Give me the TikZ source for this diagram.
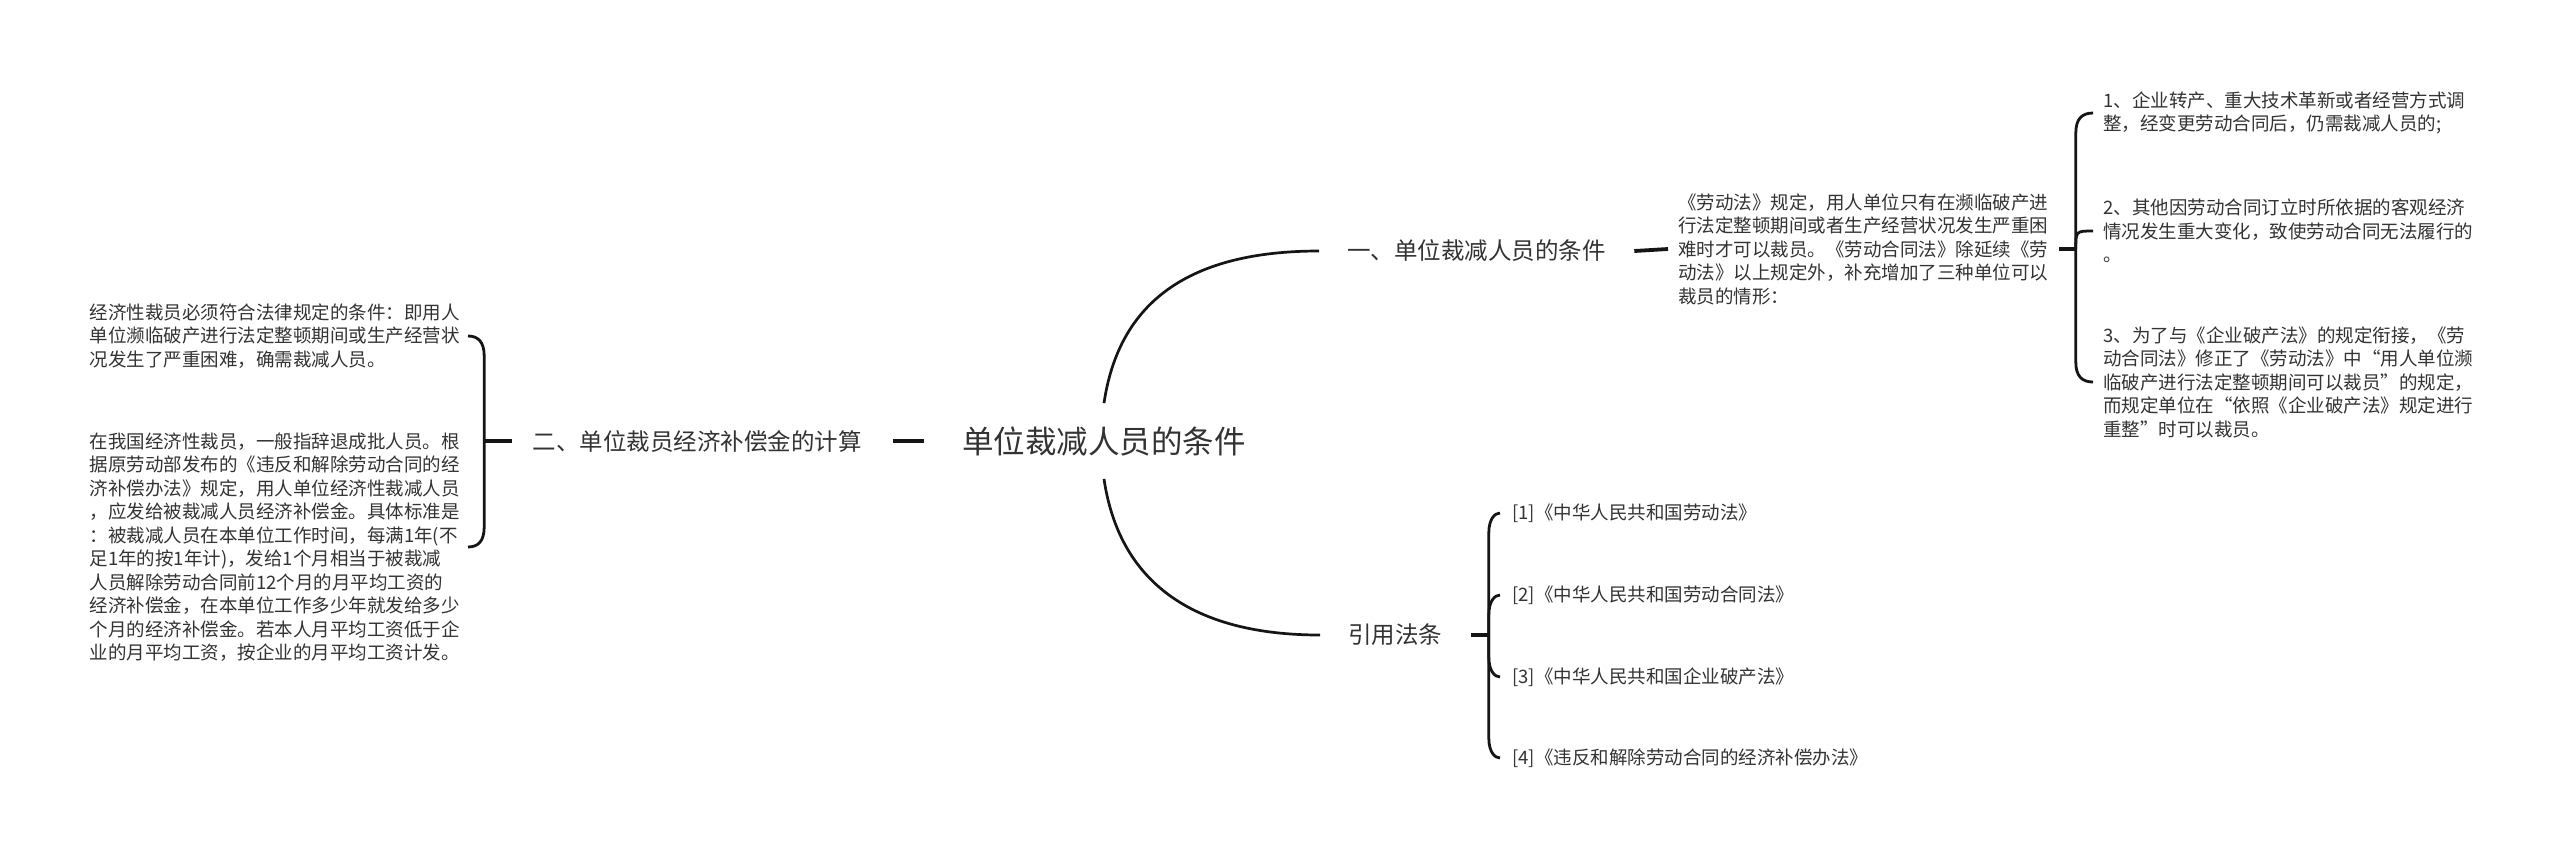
\documentclass[tikz,border=0pt]{standalone}
\usepackage{fontspec}
\setmainfont{Noto Sans CJK SC}
\usetikzlibrary{calc}
\definecolor{txt}{HTML}{333333}
\definecolor{ln}{HTML}{151515}
\tikzset{
  base/.style={inner sep=0pt, text=txt, align=left},
  body/.style={base, font=\fontsize{9.25pt}{11.75pt}\selectfont},
  branch/.style={base, font=\fontsize{11.75pt}{14pt}\selectfont, inner xsep=14pt},
  conn/.style={draw=ln, line width=1.35pt},
  stub/.style={draw=ln, line width=1.9pt},
  bk/.style={draw=ln, line width=1.4pt},
}
% bracket hook: from junction #1 vertically, then an elliptical turn into #2
\newcommand{\hookto}[2]{\draw[bk] (#1) -- ($(#1|-#2)!10pt!(#1)$) .. controls ($(#1|-#2)!3pt!(#1)$) and ($(#1|-#2)!3pt!(#2)$) .. (#2);}
\begin{document}
\begin{tikzpicture}[x=0.5pt,y=-0.5pt]
\useasboundingbox[fill=white] (0,0) rectangle (2560,859);

% centre
\node[base, font=\fontsize{15.75pt}{18pt}\selectfont, minimum height=37.5pt, inner xsep=19pt] (title) at (1104,441) {单位裁减人员的条件};

% branches
\node[branch, anchor=west] (b1) at (1319,251) {一、单位裁减人员的条件};
\node[branch, anchor=west] (b3) at (1320,635) {引用法条};
\node[branch, anchor=east, inner xsep=10pt] (b2) at (882,441) {二、单位裁员经济补偿金的计算};

% branch 1 content
\node[body, anchor=west, inner xsep=5pt] (p1) at (1668,249) {《劳动法》规定，用人单位只有在濒临破产进\\行法定整顿期间或者生产经营状况发生严重困\\难时才可以裁员。《劳动合同法》除延续《劳\\动法》以上规定外，补充增加了三种单位可以\\裁员的情形：};
\node[body, anchor=west, inner xsep=5pt] (i1) at (2093,113) {1、企业转产、重大技术革新或者经营方式调\\整，经变更劳动合同后，仍需裁减人员的;};
\node[body, anchor=west, inner xsep=5pt] (i2) at (2093,231) {2、其他因劳动合同订立时所依据的客观经济\\情况发生重大变化，致使劳动合同无法履行的\\。};
\node[body, anchor=west, inner xsep=5pt] (i3) at (2093,382) {3、为了与《企业破产法》的规定衔接，《劳\\动合同法》修正了《劳动法》中“用人单位濒\\临破产进行法定整顿期间可以裁员”的规定，\\而规定单位在“依照《企业破产法》规定进行\\重整”时可以裁员。};

% branch 2 content
\node[body, anchor=east, text width=185pt, inner xsep=4pt] (l1) at (468,336) {经济性裁员必须符合法律规定的条件：即用人\\单位濒临破产进行法定整顿期间或生产经营状\\况发生了严重困难，确需裁减人员。};
\node[body, anchor=east, text width=185pt, inner xsep=4pt] (l2) at (468,547) {在我国经济性裁员，一般指辞退成批人员。根\\据原劳动部发布的《违反和解除劳动合同的经\\济补偿办法》规定，用人单位经济性裁减人员\\，应发给被裁减人员经济补偿金。具体标准是\\：被裁减人员在本单位工作时间，每满1年(不\\足1年的按1年计)，发给1个月相当于被裁减\\人员解除劳动合同前12个月的月平均工资的\\经济补偿金，在本单位工作多少年就发给多少\\个月的经济补偿金。若本人月平均工资低于企\\业的月平均工资，按企业的月平均工资计发。};

% branch 3 content
\node[body, anchor=west, inner xsep=6pt] (r1) at (1500,513) {[1]《中华人民共和国劳动法》};
\node[body, anchor=west, inner xsep=6pt] (r2) at (1500,595) {[2]《中华人民共和国劳动合同法》};
\node[body, anchor=west, inner xsep=6pt] (r3) at (1500,677) {[3]《中华人民共和国企业破产法》};
\node[body, anchor=west, inner xsep=6pt] (r4) at (1500,758) {[4]《违反和解除劳动合同的经济补偿办法》};

% connectors from the centre
\draw[stub, shorten >=5.5pt] (title.west) -- (b2.east);
\draw[conn] (title.north) .. controls +(15,-102) and +(-129,0) .. (b1.west);
\draw[conn] (title.south) .. controls +(15,102) and +(-129,0) .. (b3.west);

% branch 1 brackets
\draw[stub] (b1.east) -- (p1.west);
\coordinate (j1) at ($(p1.east)+(17,0)$);
\draw[stub] (p1.east) -- (j1);
\hookto{j1}{i1.west}
\draw[bk] (j1) .. controls (j1|-i2.west) .. (i2.west);
\hookto{j1}{i3.west}

% branch 2 bracket
\coordinate (j2) at ($(b2.west)+(-28,0)$);
\draw[stub] (b2.west) -- (j2);
\hookto{j2}{l1.east}
\hookto{j2}{l2.east}

% branch 3 bracket
\coordinate (j3) at ($(b3.east)+(18,0)$);
\draw[stub] (b3.east) -- (j3);
\hookto{j3}{r1.west}
\hookto{j3}{r2.west}
\hookto{j3}{r3.west}
\hookto{j3}{r4.west}
\end{tikzpicture}
\end{document}
